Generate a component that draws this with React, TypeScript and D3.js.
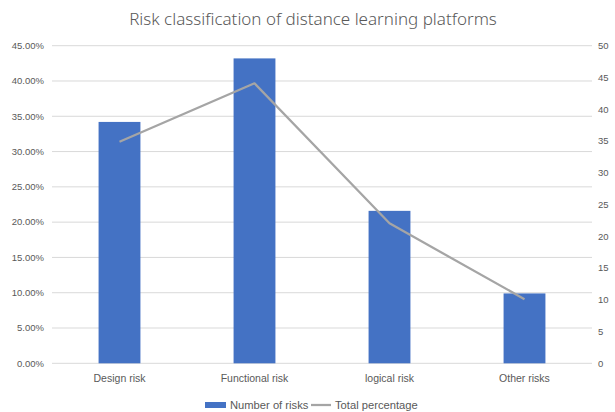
import React from "react";
import * as d3 from "d3";

const categories = ["Design risk", "Functional risk", "logical risk", "Other risks"];
const riskCounts = [38, 48, 24, 11];
const totalPercentage = [0.314, 0.3967, 0.1983, 0.0909];
const leftTicks = [0, 0.05, 0.1, 0.15, 0.2, 0.25, 0.3, 0.35, 0.4, 0.45];
const rightTicks = [0, 5, 10, 15, 20, 25, 30, 35, 40, 45, 50];

const W = 615, H = 412;
const M = { left: 52, right: 592, top: 45.7, bottom: 363.3 };
const FONT = "'Liberation Sans', Arial, sans-serif";
const TXT = "#595959";

export default function App() {
  const x = d3.scaleBand<string>().domain(categories).range([M.left, M.right]).paddingInner(0.69).paddingOuter(0.345);
  const yL = d3.scaleLinear().domain([0, 0.45]).range([M.bottom, M.top]);
  const yR = d3.scaleLinear().domain([0, 50]).range([M.bottom, M.top]);
  const fmt = d3.format(".2%");
  const line = d3.line<number>()
    .x((_, i) => (x(categories[i]) as number) + x.bandwidth() / 2)
    .y((d) => yL(d));

  return (
    <div style={{ position: "fixed", left: 0, top: 0, width: W, height: H, background: "#fff" }}>
      <svg width={W} height={H} style={{ display: "block" }} fontFamily={FONT}>
        <rect width={W} height={H} fill="#fff" />
        <text x={313} y={25} textAnchor="middle" fontSize={17} fill={TXT} fontFamily="'Noto Sans', sans-serif" fontWeight={300}>
          Risk classification of distance learning platforms
        </text>
        {leftTicks.map((t) => (
          <g key={"l" + t}>
            <line x1={M.left} x2={M.right} y1={yL(t)} y2={yL(t)} stroke="#D9D9D9" strokeWidth={1} />
            <text x={44} y={yL(t)} dy="0.35em" textAnchor="end" fontSize={9.5} fill={TXT}>{fmt(t)}</text>
          </g>
        ))}
        {rightTicks.map((t) => (
          <text key={"r" + t} x={598} y={yR(t)} dy="0.35em" textAnchor="start" fontSize={9.5} fill={TXT}>{t}</text>
        ))}
        {categories.map((c, i) => (
          <rect key={c} x={x(c)} y={yR(riskCounts[i])} width={x.bandwidth()} height={yR(0) - yR(riskCounts[i])} fill="#4472C4" />
        ))}
        <path d={line(totalPercentage) || ""} fill="none" stroke="#A5A5A5" strokeWidth={2.25} strokeLinejoin="round" />
        {categories.map((c) => (
          <text key={"c" + c} x={(x(c) as number) + x.bandwidth() / 2} y={382} textAnchor="middle" fontSize={10.5} fill={TXT}>{c}</text>
        ))}
        <g>
          <rect x={205} y={402} width={21} height={6} fill="#4472C4" />
          <text x={230} y={405} dy="0.35em" fontSize={11.2} fill={TXT}>Number of risks</text>
          <line x1={311} x2={331} y1={405} y2={405} stroke="#A5A5A5" strokeWidth={2.25} />
          <text x={335} y={405} dy="0.35em" fontSize={11.2} fill={TXT}>Total percentage</text>
        </g>
      </svg>
    </div>
  );
}
